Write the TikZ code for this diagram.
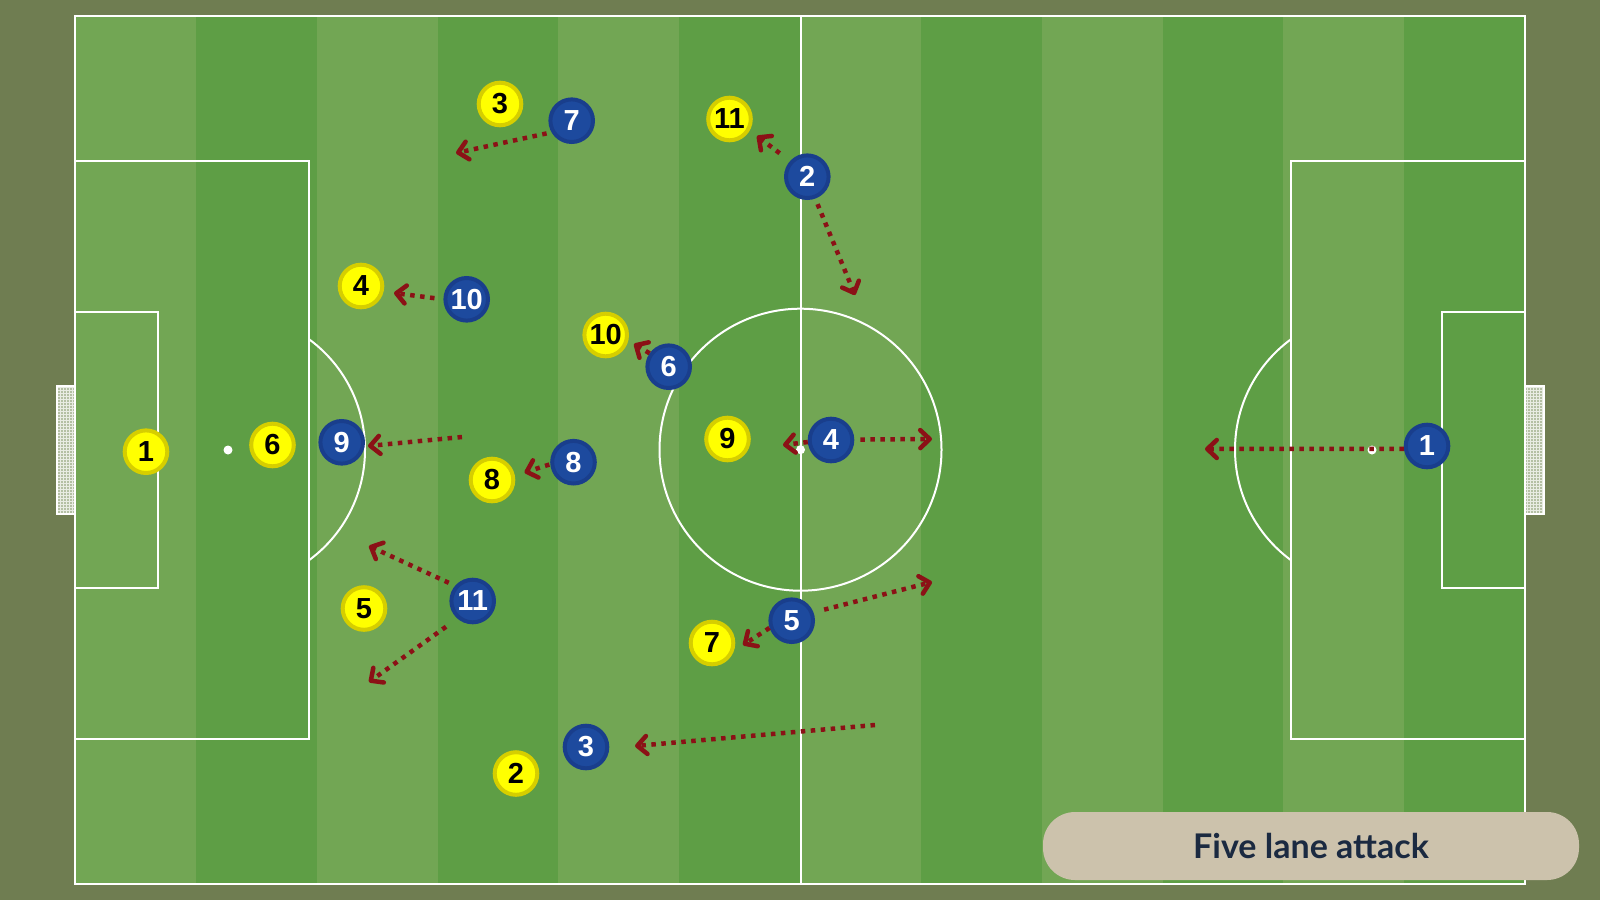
\documentclass[tikz,border=0pt]{standalone}
\usepackage{fontspec}
\usetikzlibrary{arrows.meta}
\newfontfamily\numfont{Liberation Sans}
\newfontfamily\titlefont{Lato}
\definecolor{bg}{HTML}{6F7D51}
\definecolor{lightg}{HTML}{72A654}
\definecolor{darkg}{HTML}{5E9E45}
\definecolor{yelfill}{HTML}{FFFF00}
\definecolor{yelring}{HTML}{D6CE00}
\definecolor{blufill}{HTML}{1D4A9E}
\definecolor{bluring}{HTML}{193E8C}
\definecolor{arrowred}{HTML}{8B1116}
\definecolor{beige}{HTML}{CCC2AC}
\definecolor{navy}{HTML}{1B2A41}
\definecolor{netfill}{HTML}{B4C0A4}
\begin{document}
\begin{tikzpicture}[x=1pt,y=-1pt,
  pline/.style={draw=white, line width=2pt},
  ply/.style={circle, minimum size=42.6pt, inner sep=0pt, line width=4pt, font=\numfont\bfseries\fontsize{29}{29}\selectfont},
  yel/.style={ply, fill=yelfill, draw=yelring, text=black},
  blu/.style={ply, fill=blufill, draw=bluring, text=white},
  mv/.style={draw=arrowred, line width=4.5pt, dash pattern=on 4.5pt off 5.5pt, -{Straight Barb[length=9.5pt,width=18pt,line width=4.5pt,round]}},
  spot/.style={circle, fill=white, inner sep=0pt, minimum size=9pt},
  netgrid/.style={white, line width=0.3pt, opacity=0.7}
]
\useasboundingbox (0,0) rectangle (1600,900);
\fill[bg] (0,0) rectangle (1600,900);
% stripes
\foreach \i in {0,2,...,10}
  \fill[lightg] ({75+\i*120.8333},15.5) rectangle ({75+(\i+1)*120.8333},884);
\foreach \i in {1,3,...,11}
  \fill[darkg] ({75+\i*120.8333},15.5) rectangle ({75+(\i+1)*120.8333},884);
% pitch lines
\draw[pline] (75,15.5) rectangle (1525,884);
\draw[pline] (800.5,15.5) -- (800.5,884);
\draw[pline] (800.5,449.7) circle[radius=141pt];
\draw[pline] (75,161) rectangle (309,739);
\draw[pline] (75,312) rectangle (158,588);
\draw[pline] (1291,161) rectangle (1525,739);
\draw[pline] (1442,312) rectangle (1525,588);
\begin{scope}
  \clip (309,0) rectangle (1600,900);
  \draw[pline] (228,449.7) circle[radius=137pt];
\end{scope}
\begin{scope}
  \clip (0,0) rectangle (1291,900);
  \draw[pline] (1372,449.7) circle[radius=137pt];
\end{scope}
% goals
\fill[netfill] (57,386) rectangle (75,514);
\draw[netgrid] (57,386) grid[step=3pt] (75,514);
\draw[white, line width=1.5pt] (57,386) rectangle (75,514);
\fill[netfill] (1525,386) rectangle (1544,514);
\draw[netgrid] (1525,386) grid[step=3pt] (1544,514);
\draw[white, line width=1.5pt] (1525,386) rectangle (1544,514);
% spots
\node[spot] (psL) at (228,450) {};
\node[spot] (psR) at (1372,450) {};
\node[spot] (cs) at (800.5,449.7) {};
% yellow team
\node[yel] (Y1) at (146,451.7) {1};
\node[yel] (Y6) at (272.5,445) {6};
\node[yel] (Y4) at (361,286) {4};
\node[yel] (Y3) at (500,104) {3};
\node[yel] (Y8) at (492,480) {8};
\node[yel] (Y5) at (364,608.5) {5};
\node[yel] (Y2) at (516,773.5) {2};
\node[yel] (Y10) at (605.7,335) {10};
\node[yel] (Y11) at (729.5,119) {11};
\node[yel] (Y9) at (727.5,439) {9};
\node[yel] (Y7) at (712,643) {7};
% blue team
\node[blu] (B7) at (571.7,120.7) {7};
\node[blu] (B10) at (466.7,299.3) {10};
\node[blu] (B9) at (341.7,442.3) {9};
\node[blu] (B8) at (573.5,462.2) {8};
\node[blu] (B11) at (472.7,601) {11};
\node[blu] (B3) at (586,747) {3};
\node[blu] (B6) at (668.7,366.7) {6};
\node[blu] (B2) at (807.3,176.7) {2};
\node[blu] (B4) at (831,440) {4};
\node[blu] (B5) at (791.7,620.7) {5};
\node[blu] (B1) at (1427,446) {1};
% movement arrows
\coordinate (t7) at (456,153);
\draw[mv, shorten <=5pt] (B7.210) -- (t7);
\coordinate (t2a) at (757,136);
\draw[mv, shorten <=13pt] (B2.138) -- (t2a);
\coordinate (t2b) at (855,295);
\draw[mv, shorten <=6pt] (B2.290) -- (t2b);
\coordinate (t10) at (394,293);
\draw[mv, shorten <=9pt] (B10.180) -- (t10);
\coordinate (t6) at (634,344);
\draw[mv] (B6.145) -- (t6);
\coordinate (s9) at (462,437);
\coordinate (t9) at (368,446);
\draw[mv] (s9) -- (t9);
\coordinate (t8) at (524.5,472.5);
\draw[mv, shorten <=1pt] (B8.185) -- (t8);
\coordinate (t4a) at (783,445);
\draw[mv] (B4.185) -- (t4a);
\coordinate (t4b) at (932,439);
\draw[mv, shorten <=6pt] (B4.1) -- (t4b);
\coordinate (t11a) at (369,546);
\draw[mv, shorten <=7pt] (B11.139) -- (t11a);
\coordinate (t11b) at (369,682);
\draw[mv, shorten <=14pt] (B11.229) -- (t11b);
\coordinate (t5a) at (932,582);
\draw[mv, shorten <=11pt] (B5.21) -- (t5a);
\coordinate (t5b) at (743,645);
\draw[mv] (B5.198) -- (t5b);
\coordinate (s3) at (875,725);
\coordinate (t3) at (635,746);
\draw[mv] (s3) -- (t3);
\coordinate (t1) at (1205,449);
\draw[mv] (B1.187) -- (t1);
% title
\node[fill=beige, rounded corners=32pt, minimum width=536pt, minimum height=68pt, inner sep=0pt, text=navy, font=\titlefont\bfseries\fontsize{34}{34}\selectfont] (title) at (1311,846) {Five lane attack};
\end{tikzpicture}
\end{document}
